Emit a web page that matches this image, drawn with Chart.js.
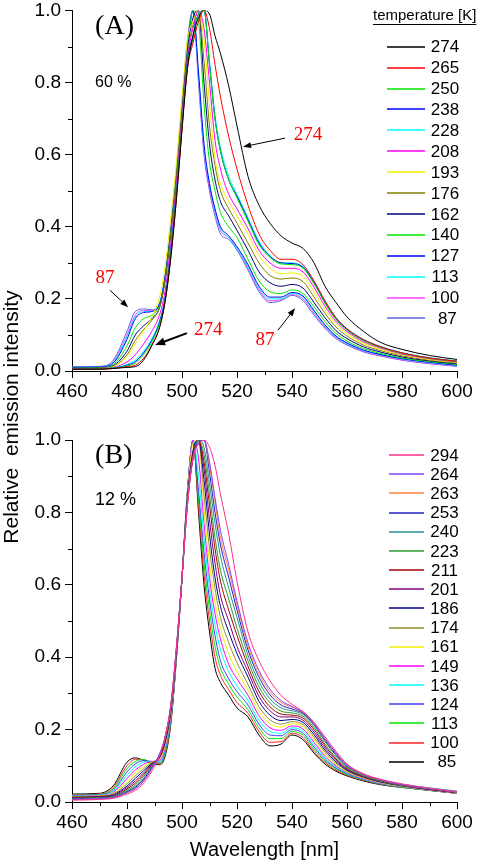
<!DOCTYPE html>
<html>
<head>
<meta charset="utf-8">
<script src="https://cdn.jsdelivr.net/npm/chart.js@4.4.1/dist/chart.umd.min.js"></script>
<style>
  html, body { margin: 0; padding: 0; background: #fff; }
  body { width: 478px; height: 867px; position: relative; overflow: hidden; }
  .box { position: absolute; left: 0; width: 478px; }
  #boxA { top: -3px; height: 410px; }
  #boxB { top: 420px; height: 447px; }
  #ytitle {
    position: absolute; left: -124px; top: 405px; width: 270px; height: 24px; line-height: 24px;
    text-align: center; transform: rotate(-90deg); white-space: pre;
    font: 21px "Liberation Sans", Arial, sans-serif; color: #000;
  }
</style>
</head>
<body>
<div class="box" id="boxA"><canvas id="chartA" width="478" height="410"></canvas></div>
<div class="box" id="boxB"><canvas id="chartB" width="478" height="447"></canvas></div>
<div id="ytitle">Relative  emission intensity</div>
<script>
// shared wavelength grid (nm)
const wavelength = [460,470,475,480,483,486,489,492,494,496,498,500,502,504,506,508,510,512,514,517,520,524,528,532,536,540,544,548,552,556,560,566,572,580,590,600];

// panel A, 60 %
const tempsA = ['274','265','250','238','228','208','193','176','162','140','127','113','100',' 87'];
const colorsA = ['#000000','#ff0000','#00e600','#0000ff','#00ffff','#ff00ff','#f0f000','#808000','#000080','#00e600','#0000ff','#00ffff','#ff40ff','#6060e0'];
const a274 = [.005,.005,.007,.010,.012,.030,.070,.125,.20,.32,.48,.67,.84, .93,.98,1.0,.99,.93,.88,.79,.68, .54,.46,.41,.375,.355,.34,.30,.235,.19,.15,.11,.08,.06,.043,.032];
const a265 = [.005,.005,.007,.012,.016,.035,.072,.125,.20,.32,.48,.67,.84, .91,.97,1.0,.95,.85,.76,.65,.56, .46,.38,.335,.31,.31,.295,.25,.195,.148,.117,.087,.068,.05,.036,.027];
const a250 = [.005,.006,.008,.014,.022,.045,.08,.135,.20,.33,.49,.68,.85, .92,.99,1.0,.85,.70,.61,.53,.48, .415,.35,.315,.297,.295,.285,.242,.188,.143,.113,.084,.066,.049,.035,.026];
const a238 = [.005,.006,.008,.016,.026,.050,.085,.14,.21,.34,.50,.68,.86, .93,.99,1.0,.85,.70,.61,.53,.485, .42,.355,.318,.30,.298,.288,.245,.19,.145,.115,.086,.067,.05,.036,.027];
const a228 = [.005,.006,.009,.018,.030,.055,.09,.145,.21,.34,.50,.68,.86, .93,.99,1.0,.86,.71,.62,.54,.49, .425,.36,.32,.30,.30,.29,.248,.194,.148,.118,.088,.069,.051,.037,.028];
const a208 = [.006,.007,.010,.025,.045,.075,.11,.16,.23,.36,.52,.70,.87, .95,1.0,.95,.80,.64,.56,.49,.45, .395,.335,.30,.285,.285,.275,.232,.18,.137,.109,.081,.064,.047,.034,.025];
const a193 = [.006,.007,.012,.040,.075,.110,.150,.21,.30,.43,.58,.76,.92, .97,1.0,.92,.74,.59,.52,.47,.43, .38,.32,.285,.27,.272,.262,.22,.17,.13,.103,.077,.06,.045,.032,.024];
const a176 = [.007,.008,.013,.045,.085,.115,.14,.18,.26,.39,.54,.71,.88, .96,1.0,.86,.68,.57,.50,.45,.41, .355,.30,.265,.255,.258,.248,.205,.16,.122,.097,.072,.057,.042,.03,.022];
const a162 = [.007,.008,.015,.055,.100,.125,.145,.18,.26,.39,.54,.72,.89, .98,1.0,.80,.63,.53,.47,.43,.39, .335,.275,.245,.235,.24,.23,.19,.148,.112,.09,.067,.053,.039,.028,.02];
const a140 = [.008,.009,.018,.070,.120,.145,.155,.185,.26,.39,.55,.72,.89, 1.0,.97,.74,.58,.50,.44,.40,.37, .31,.25,.22,.215,.225,.215,.178,.137,.104,.083,.062,.049,.036,.026,.018];
const a127 = [.010,.011,.022,.088,.145,.162,.165,.19,.27,.40,.55,.73,.90, 1.0,.83,.63,.52,.45,.40,.375,.345, .295,.235,.205,.205,.218,.208,.168,.128,.097,.078,.058,.046,.034,.024,.016];
const a113 = [.010,.011,.024,.095,.150,.165,.166,.19,.27,.40,.56,.73,.90, 1.0,.82,.62,.52,.445,.395,.37,.34, .29,.23,.20,.20,.215,.205,.165,.125,.095,.076,.057,.045,.033,.023,.015];
const a100 = [.010,.011,.026,.100,.155,.168,.168,.19,.27,.40,.56,.74,.91, 1.0,.81,.61,.51,.44,.39,.37,.34, .285,.225,.195,.198,.212,.20,.16,.122,.093,.074,.055,.043,.031,.021,.014];
const a87  = [.012,.013,.030,.110,.165,.172,.170,.190,.27,.40,.56,.74,.92, 1.0,.80,.60,.50,.43,.38,.365,.335, .28,.22,.19,.195,.21,.195,.155,.118,.09,.072,.053,.042,.030,.020,.013];
const seriesA = [a274,a265,a250,a238,a228,a208,a193,a176,a162,a140,a127,a113,a100,a87];

// panel B, 12 %
const tempsB = ['294','264','263','253','240','223','211','201','186','174','161','149','136','124','113','100',' 85'];
const colorsB = ['#ff2e8a','#8040ff','#ff8040','#2020c0','#2a9090','#2e9a2e','#a00000','#800080','#000090','#909030','#f0f000','#ff00ff','#00ffff','#4040ff','#00e600','#ff2020','#000000'];
const b294 = [.005,.007,.01,.022,.032,.052,.085,.13,.185,.275,.43,.62,.82, .95,.99,1.0,.98,.93,.85,.74,.61, .47,.39,.335,.295,.27,.25,.22,.18,.14,.105,.078,.063,.05,.038,.028];
const b264 = [.007,.009,.012,.026,.037,.058,.092,.135,.185,.27,.43,.62,.825, .95,.99,1.0,.94,.84,.75,.655,.555, .44,.363,.312,.28,.264,.248,.217,.175,.136,.102,.077,.062,.048,.037,.027];
const b263 = [.007,.009,.012,.026,.037,.058,.092,.135,.184,.27,.43,.62,.825, .95,.99,1.0,.93,.83,.73,.64,.545, .43,.355,.305,.275,.262,.247,.216,.173,.134,.101,.076,.061,.048,.037,.027];
const b253 = [.008,.01,.013,.028,.04,.062,.095,.135,.183,.27,.425,.62,.83, .95,.995,1.0,.91,.80,.71,.62,.53, .42,.345,.296,.268,.257,.245,.214,.17,.131,.099,.075,.06,.047,.036,.027];
const b240 = [.009,.011,.014,.03,.043,.065,.098,.134,.182,.265,.425,.62,.83, .95,1.0,.98,.88,.77,.68,.59,.51, .405,.332,.285,.26,.252,.242,.212,.167,.128,.097,.075,.061,.049,.039,.03];
const b223 = [.01,.012,.015,.033,.047,.07,.1,.132,.18,.265,.425,.62,.835, .95,1.0,.96,.85,.73,.64,.56,.48, .39,.318,.274,.251,.246,.237,.206,.16,.123,.094,.072,.058,.046,.036,.027];
const b211 = [.011,.013,.016,.036,.052,.075,.102,.13,.178,.26,.42,.62,.835, .96,1.0,.94,.82,.70,.61,.53,.46, .375,.305,.263,.243,.24,.232,.2,.155,.119,.092,.071,.058,.046,.035,.026];
const b201 = [.012,.014,.018,.04,.058,.08,.104,.128,.175,.26,.42,.62,.84, .96,1.0,.92,.78,.66,.57,.50,.43, .36,.292,.252,.235,.235,.226,.193,.149,.115,.09,.07,.057,.045,.035,.026];
const b186 = [.013,.015,.02,.044,.065,.086,.106,.125,.17,.255,.42,.62,.84, .97,1.0,.89,.74,.62,.54,.47,.41, .345,.278,.24,.225,.228,.22,.186,.143,.111,.088,.069,.056,.045,.035,.026];
const b174 = [.014,.016,.022,.05,.072,.092,.108,.122,.165,.25,.415,.62,.845, .97,1.0,.85,.70,.59,.51,.44,.385, .325,.263,.227,.215,.222,.214,.179,.137,.107,.086,.067,.055,.044,.034,.026];
const b161 = [.015,.017,.024,.057,.08,.098,.11,.12,.16,.25,.415,.62,.85, .99,1.0,.81,.66,.55,.48,.41,.36, .31,.25,.216,.207,.216,.208,.172,.131,.103,.084,.066,.054,.043,.034,.025];
const b149 = [.016,.018,.026,.065,.088,.104,.112,.116,.155,.245,.41,.62,.85, 1.0,.95,.77,.62,.52,.45,.38,.34, .295,.238,.205,.198,.21,.202,.165,.126,.10,.082,.064,.053,.043,.033,.025];
const b136 = [.017,.019,.029,.074,.097,.11,.112,.113,.15,.24,.41,.62,.85, 1.0,.90,.73,.59,.49,.42,.36,.32, .28,.225,.195,.19,.205,.196,.158,.121,.097,.08,.063,.052,.042,.033,.025];
const b124 = [.018,.02,.032,.083,.105,.114,.112,.11,.145,.235,.405,.62,.855, 1.0,.86,.69,.56,.46,.39,.34,.305, .268,.215,.185,.183,.2,.19,.152,.117,.094,.078,.062,.051,.042,.033,.025];
const b113 = [.019,.021,.036,.092,.112,.117,.11,.107,.14,.23,.40,.62,.86, 1.0,.84,.66,.53,.43,.37,.325,.29, .255,.205,.175,.175,.195,.184,.146,.113,.091,.076,.061,.05,.041,.032,.024];
const b100 = [.02,.022,.04,.10,.118,.117,.108,.105,.135,.225,.40,.62,.86, 1.0,.82,.63,.50,.40,.35,.31,.275, .245,.195,.165,.167,.19,.178,.14,.109,.088,.074,.06,.049,.041,.032,.024];
const b85  = [.022,.024,.045,.11,.122,.115,.106,.103,.13,.22,.40,.62,.86, 1.0,.80,.60,.47,.37,.33,.295,.26, .235,.185,.155,.16,.185,.172,.135,.105,.085,.072,.058,.048,.04,.032,.024];
const seriesB = [b294,b264,b263,b253,b240,b223,b211,b201,b186,b174,b161,b149,b136,b124,b113,b100,b85];

// axis tick labels
const xTickLabels = [460,480,500,520,540,560,580,600];
const yTickLabels = ['0.0','0.2','0.4','0.6','0.8','1.0'];

// red annotations (data coords)
const notesA = [
  { text: '274', at: [545.8, 0.655], from: [537.5, 0.646], to: [522.2, 0.622], w: 1 },
  { text: '87',  at: [472.0, 0.257], from: [473.8, 0.224], to: [480.4, 0.177], w: 1 },
  { text: '274', at: [509.5, 0.113], from: [501.8, 0.105], to: [490.2, 0.072], w: 2 },
  { text: '87',  at: [530.2, 0.086], from: [534.9, 0.113], to: [541.1, 0.174], w: 1 }
];

const sans = '"Liberation Sans", Arial, sans-serif';
const serif = '"Liberation Serif", "Times New Roman", serif';

function arrow(ctx, x1, y1, x2, y2, w) {
  const ang = Math.atan2(y2 - y1, x2 - x1);
  const hl = w > 1 ? 10 : 8, hw = w > 1 ? 4 : 3;
  ctx.lineWidth = w;
  ctx.beginPath();
  ctx.moveTo(x1, y1);
  ctx.lineTo(x2 - Math.cos(ang) * hl * 0.8, y2 - Math.sin(ang) * hl * 0.8);
  ctx.stroke();
  ctx.beginPath();
  ctx.moveTo(x2, y2);
  ctx.lineTo(x2 - Math.cos(ang) * hl - Math.sin(ang) * hw, y2 - Math.sin(ang) * hl + Math.cos(ang) * hw);
  ctx.lineTo(x2 - Math.cos(ang) * hl + Math.sin(ang) * hw, y2 - Math.sin(ang) * hl - Math.cos(ang) * hw);
  ctx.closePath();
  ctx.fill();
}

function decor(opt) {
  return {
    id: 'decor',
    afterDraw(chart) {
      const ctx = chart.ctx, xs = chart.scales.x, ys = chart.scales.y;
      ctx.save();
      ctx.strokeStyle = '#000';
      ctx.fillStyle = '#000';
      ctx.lineWidth = 1;
      // minor ticks
      xs.ticks.forEach(t => {
        if (Math.round(t.value) % 20 !== 0) {
          const px = Math.round(xs.getPixelForValue(t.value)) + 0.5;
          ctx.beginPath(); ctx.moveTo(px, xs.top); ctx.lineTo(px, xs.top + 4); ctx.stroke();
        }
      });
      ys.ticks.forEach(t => {
        if (Math.round(t.value * 10) % 2 !== 0) {
          const py = Math.round(ys.getPixelForValue(t.value)) + 0.5;
          ctx.beginPath(); ctx.moveTo(ys.right - 4, py); ctx.lineTo(ys.right, py); ctx.stroke();
        }
      });
      // panel label and concentration
      ctx.textBaseline = 'middle';
      ctx.textAlign = 'left';
      ctx.font = '28px ' + serif;
      ctx.fillText(opt.panel, xs.getPixelForValue(468.4), ys.getPixelForValue(0.956));
      ctx.font = opt.concSize + 'px ' + sans;
      ctx.fillText(opt.conc, xs.getPixelForValue(468.4), ys.getPixelForValue(opt.concY));
      // legend
      if (opt.legendTitle) {
        ctx.font = '15px ' + sans;
        ctx.fillText(opt.legendTitle, 373, opt.titleY);
        const tw = ctx.measureText(opt.legendTitle).width;
        ctx.beginPath(); ctx.moveTo(373, opt.titleY + 8.5); ctx.lineTo(373 + tw, opt.titleY + 8.5); ctx.stroke();
      }
      ctx.font = '17px ' + sans;
      ctx.textAlign = 'center';
      opt.temps.forEach((t, i) => {
        const y = opt.ly0 + i * opt.ldy;
        ctx.strokeStyle = opt.colors[i];
        ctx.lineWidth = 1.6;
        ctx.beginPath(); ctx.moveTo(opt.lx1, Math.round(y)); ctx.lineTo(opt.lx2, Math.round(y)); ctx.stroke();
        ctx.fillStyle = '#000';
        ctx.fillText(t, opt.tx, y + 1);
      });
      // annotations
      (opt.notes || []).forEach(n => {
        ctx.fillStyle = '#ff0000';
        ctx.font = '19px ' + serif;
        ctx.fillText(n.text, xs.getPixelForValue(n.at[0]), ys.getPixelForValue(n.at[1]));
        ctx.fillStyle = '#000';
        ctx.strokeStyle = '#000';
        arrow(ctx, xs.getPixelForValue(n.from[0]), ys.getPixelForValue(n.from[1]),
                   xs.getPixelForValue(n.to[0]), ys.getPixelForValue(n.to[1]), n.w);
      });
      ctx.restore();
    }
  };
}

function makeChart(id, series, colors, opt) {
  const datasets = series.map((s, i) => ({
    data: s.map((v, j) => ({ x: wavelength[j], y: v })),
    borderColor: colors[i],
    borderWidth: 1,
    pointRadius: 0,
    fill: false,
    cubicInterpolationMode: 'monotone'
  }));
  return new Chart(document.getElementById(id), {
    type: 'line',
    data: { datasets },
    options: {
      responsive: false,
      animation: false,
      devicePixelRatio: 1,
      layout: { padding: { top: opt.padTop, right: 21, left: 0, bottom: 0 } },
      plugins: { legend: { display: false }, tooltip: { enabled: false } },
      scales: {
        x: {
          type: 'linear', min: 460, max: 600,
          border: { color: '#000', width: 1 },
          grid: { drawOnChartArea: false, tickLength: 7,
            tickColor: c => (c.tick && Math.round(c.tick.value) % 20 === 0) ? '#000' : 'rgba(0,0,0,0)' },
          ticks: { stepSize: 10, autoSkip: false, maxRotation: 0, padding: 4, color: '#000',
            font: { family: sans, size: 19, lineHeight: 1 },
            callback: v => xTickLabels.includes(Math.round(v)) && Math.round(v) === v ? String(v) : '' },
          title: opt.xTitle ? { display: true, text: opt.xTitle, color: '#000',
            font: { family: sans, size: 20 }, padding: { top: 0, bottom: 5 } } : { display: false },
          afterFit: s => { s.height = opt.xHeight; }
        },
        y: {
          min: 0, max: 1,
          border: { color: '#000', width: 1 },
          grid: { drawOnChartArea: false, tickLength: 7,
            tickColor: c => (c.tick && Math.round(c.tick.value * 10) % 2 === 0) ? '#000' : 'rgba(0,0,0,0)' },
          ticks: { stepSize: 0.1, autoSkip: false, padding: 4, color: '#000',
            font: { family: sans, size: 19, lineHeight: 1 },
            callback: v => { const k = Math.round(v * 10); return k % 2 === 0 ? yTickLabels[k / 2] : ''; } },
          afterFit: s => { s.width = 72; }
        }
      }
    },
    plugins: [decor(opt)]
  });
}

makeChart('chartA', seriesA, colorsA, {
  padTop: 9, xHeight: 36, panel: '(A)', conc: '60 %', concY: 0.8, concSize: 16,
  legendTitle: 'temperature [K]', titleY: 19, temps: tempsA, colors: colorsA,
  ly0: 49.7, ldy: 20.9, lx1: 387, lx2: 425, tx: 445, notes: notesA
});
makeChart('chartB', seriesB, colorsB, {
  padTop: 20, xHeight: 65, xTitle: 'Wavelength [nm]', panel: '(B)', conc: '12 %', concY: 0.835, concSize: 18,
  temps: tempsB, colors: colorsB,
  ly0: 35, ldy: 19.17, lx1: 389, lx2: 424, tx: 444.5
});
</script>
</body>
</html>
